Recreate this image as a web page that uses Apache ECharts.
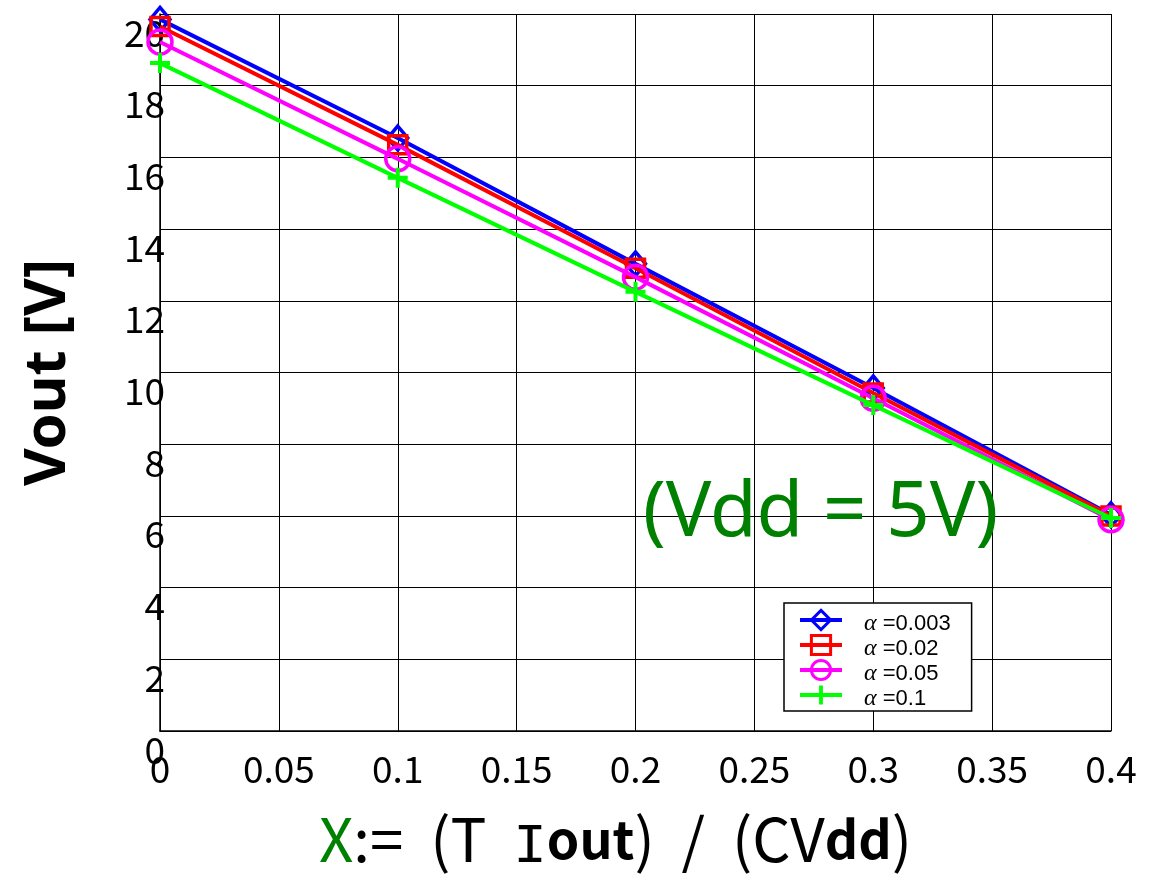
<!DOCTYPE html>
<html>
<head>
<meta charset="utf-8">
<script src="https://cdn.jsdelivr.net/npm/echarts@6/dist/echarts.min.js"></script>
<style>
html,body{margin:0;padding:0;background:#fff;}
#c{width:1151px;height:874px;}
</style>
</head>
<body>
<div id="c"></div>
<script>
// ---- data ----
var xValues = [0, 0.1, 0.2, 0.3, 0.4];
var alphaLabels = ['0.003', '0.02', '0.05', '0.1'];
var vA003 = [19.85, 16.54, 13.03, 9.57, 6.03];
var vA02  = [19.65, 16.35, 12.91, 9.43, 6.0];
var vA05  = [19.22, 15.96, 12.66, 9.28, 5.89];
var vA1   = [18.63, 15.43, 12.25, 9.09, 5.94];
var yTicks = [0, 2, 4, 6, 8, 10, 12, 14, 16, 18, 20];
var xTicks = [0, 0.05, 0.1, 0.15, 0.2, 0.25, 0.3, 0.35, 0.4];

var seriesValues = [vA003, vA02, vA05, vA1];
var colors = ['#0000ff', '#ff0000', '#ff00ff', '#00ff00'];
var symbols = ['diamond', 'rect', 'circle', 'path://M8,0 H12 V8 H20 V12 H12 V20 H8 V12 H0 V8 H8 Z'];
var symbolSizes = [[20, 24], 18, 24, 20];

function pairs(vals) {
  return xValues.map(function (x, i) { return [x, vals[i]]; });
}

var series = seriesValues.map(function (vals, i) {
  var isPlus = i === 3;
  return {
    name: 'α =' + alphaLabels[i],
    type: 'line',
    data: pairs(vals),
    symbol: symbols[i],
    symbolSize: symbolSizes[i],
    showAllSymbol: true,
    lineStyle: { color: colors[i], width: 4 },
    itemStyle: isPlus
      ? { color: colors[i], borderWidth: 0 }
      : { color: 'rgba(0,0,0,0)', borderColor: colors[i], borderWidth: 3.5 },
    emphasis: { disabled: true },
    z: 2 + i
  };
});

var tickFont = 'Noto Sans CJK JP';
var chart = echarts.init(document.getElementById('c'), null, { renderer: 'canvas' });
chart.setOption({
  animation: false,
  backgroundColor: '#ffffff',
  grid: { left: 160, right: 40, top: 14, bottom: 143, containLabel: false, outerBoundsMode: 'none' },
  xAxis: {
    type: 'value',
    min: xTicks[0],
    max: xTicks[xTicks.length - 1],
    interval: 0.05,
    axisLine: { show: true, onZero: false, lineStyle: { color: '#000', width: 1.5 } },
    axisTick: { show: false },
    splitLine: { show: true, lineStyle: { color: '#000', width: 1 } },
    axisLabel: {
      margin: 19,
      fontFamily: tickFont,
      fontSize: 37,
      color: '#000',
      showMaxLabel: true,
      showMinLabel: true,
      formatter: function (v) { return String(+v.toFixed(2)); }
    },
    name: '{g|X}{n|:=  (T  }{i|I}{b|out}{n|)  /  (CV}{b|dd}{n|)}',
    nameLocation: 'middle',
    nameGap: 72,
    nameTextStyle: {
      padding: [0, 40, 0, 0],
      rich: {
        g: { color: '#008000', fontFamily: 'Noto Sans CJK JP', fontSize: 60 },
        n: { color: '#000', fontFamily: 'Noto Sans CJK JP', fontSize: 60 },
        i: { color: '#000', fontFamily: 'Liberation Mono', fontSize: 56, padding: [16, 0, 0, 0] },
        b: { color: '#000', fontFamily: 'Noto Sans CJK JP', fontWeight: 'bold', fontSize: 52 }
      }
    }
  },
  yAxis: {
    type: 'value',
    min: yTicks[0],
    max: yTicks[yTicks.length - 1],
    interval: 2,
    axisLine: { show: true, onZero: false, lineStyle: { color: '#000', width: 1.5 } },
    axisTick: { show: false },
    splitLine: { show: true, lineStyle: { color: '#000', width: 1 } },
    axisLabel: {
      margin: -5,
      verticalAlign: 'top',
      fontFamily: tickFont,
      fontSize: 37,
      color: '#000',
      showMaxLabel: true,
      showMinLabel: true
    },
    name: 'Vout [V]',
    nameLocation: 'middle',
    nameGap: 83,
    nameRotate: 90,
    nameTextStyle: {
      color: '#000',
      fontFamily: 'Noto Sans',
      fontWeight: 'bold',
      fontSize: 58
    }
  },
  legend: {
    orient: 'vertical',
    left: 784,
    top: 603,
    padding: [1, 21, 0, 14],
    itemWidth: 42,
    itemHeight: 24,
    itemGap: -7,
    backgroundColor: '#ffffff',
    borderColor: '#000',
    borderWidth: 1.5,
    borderRadius: 0,
    selectedMode: false,
    lineStyle: { width: 4 },
    data: series.map(function (s, i) {
      return {
        name: s.name,
        itemStyle: i === 3 ? { borderWidth: 0 } : { borderWidth: 3 }
      };
    }),
    formatter: function (name) {
      return '{a|α}{t|' + name.slice(1) + '}';
    },
    textStyle: {
      color: '#000',
      fontFamily: 'Liberation Sans',
      fontSize: 22,
      rich: {
        a: { fontStyle: 'italic', fontFamily: 'Liberation Serif', fontSize: 24, lineHeight: 22, padding: [8, 0, 0, 17], color: '#000' },
        t: { fontFamily: 'Liberation Sans', fontSize: 22, lineHeight: 22, padding: [8, 0, 0, 0], color: '#000' }
      }
    }
  },
  graphic: [{
    type: 'text',
    left: 643,
    top: 476,
    silent: true,
    style: {
      text: '(Vdd = 5V)',
      fill: '#008000',
      font: '76px "Noto Sans"'
    },
    z: 10
  }],
  series: series
});
</script>
</body>
</html>
